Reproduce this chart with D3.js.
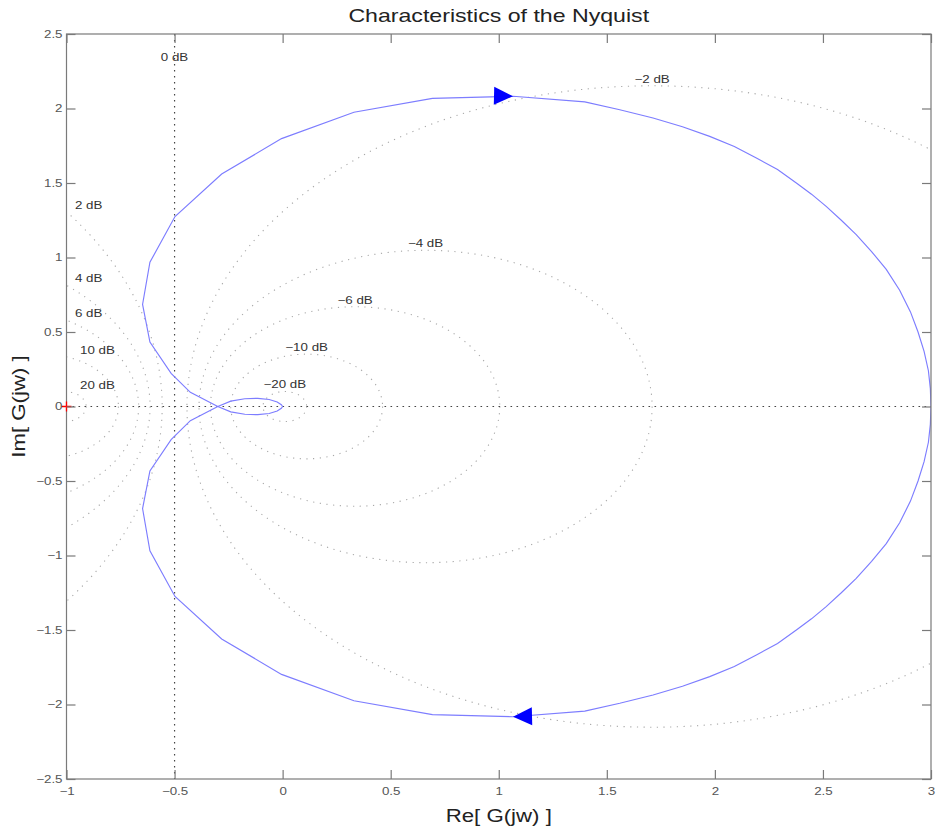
<!DOCTYPE html>
<html>
<head>
<meta charset="utf-8">
<script src="https://cdn.jsdelivr.net/npm/d3@7"></script>
<style>
  body { margin: 0; background: #fff; }
  svg text { font-family: "Liberation Sans", Arial, Helvetica, sans-serif; }
</style>
</head>
<body>
<svg id="chart" width="936" height="829"></svg>
<script>
// Axis ticks
const xTicks = [-1, -0.5, 0, 0.5, 1, 1.5, 2, 2.5, 3];
const yTicks = [-2.5, -2, -1.5, -1, -0.5, 0, 0.5, 1, 1.5, 2, 2.5];

// Constant closed-loop magnitude contours (M-circles), in dB
const gridDb = [20, 10, 6, 4, 2, 0, -2, -4, -6, -10, -20];

// G(jw) for w >= 0, from w = 0 (Re = 3) to w -> infinity (origin)
const nyqRe = [3.000, 2.997, 2.988, 2.968, 2.940, 2.905, 2.855, 2.793, 2.725, 2.654,
               2.585, 2.515, 2.447, 2.377, 2.290, 2.192, 2.090, 1.976, 1.850, 1.714,
               1.560, 1.398, 1.066, 0.693, 0.330, -0.005, -0.282, -0.498, -0.614, -0.648,
               -0.614, -0.516, -0.427, -0.300, -0.240, -0.175, -0.115, -0.062, -0.025, -0.006, 0.000];
const nyqIm = [0.000, -0.120, -0.240, -0.370, -0.500, -0.635, -0.780, -0.920, -1.040, -1.153,
               -1.250, -1.343, -1.425, -1.500, -1.590, -1.668, -1.745, -1.813, -1.878, -1.936,
               -1.992, -2.044, -2.082, -2.068, -1.975, -1.798, -1.560, -1.275, -0.968, -0.685,
               -0.432, -0.222, -0.095, 0.000, 0.036, 0.052, 0.055, 0.047, 0.030, 0.012, 0.000];
const arrowIndex = 22;

const title = "Characteristics of the Nyquist";
const xLabel = "Re[ G(jw) ]";
const yLabel = "Im[ G(jw) ]";

const svg = d3.select("#chart");
const W = 936, H = 829;
const m = { left: 66.5, right: 931, top: 34, bottom: 779 };

const x = d3.scaleLinear().domain([-1, 3]).range([m.left, m.right]);
const y = d3.scaleLinear().domain([-2.5, 2.5]).range([m.bottom, m.top]);

const STRETCH = 1.27;
function widen(sel, s) {
  sel.each(function () {
    const t = d3.select(this);
    const x0 = +t.attr("x") || 0;
    t.attr("transform", `translate(${x0},0) scale(${s},1) translate(${-x0},0)`);
  });
}
const fmt = d => (d < 0 ? "\u2212" + Math.abs(d) : String(d));

svg.append("rect").attr("width", W).attr("height", H).attr("fill", "#fff");

svg.append("defs").append("clipPath").attr("id", "plotClip")
  .append("rect")
  .attr("x", m.left).attr("y", m.top)
  .attr("width", m.right - m.left).attr("height", m.bottom - m.top);

const plot = svg.append("g").attr("clip-path", "url(#plotClip)");

// M-circles: centre M^2/(1-M^2), radius |M/(1-M^2)|
const circles = gridDb.filter(d => d !== 0).map(db => {
  const M = Math.pow(10, db / 20);
  const c = (M * M) / (1 - M * M);
  const r = Math.abs(M / (1 - M * M));
  return { db, c, r };
});

plot.selectAll("ellipse.mcircle")
  .data(circles)
  .join("ellipse")
  .attr("class", "mcircle")
  .attr("cx", d => x(d.c))
  .attr("cy", y(0))
  .attr("rx", d => x(d.c + d.r) - x(d.c))
  .attr("ry", d => y(0) - y(d.r))
  .attr("fill", "none")
  .attr("stroke", "#a8a8a8")
  .attr("stroke-width", 1.1)
  .attr("stroke-dasharray", "1.2,5.5");

// 0 dB contour (Re = -1/2) and the real axis
plot.append("line")
  .attr("x1", x(-0.5)).attr("x2", x(-0.5))
  .attr("y1", m.top).attr("y2", m.bottom)
  .attr("stroke", "#444").attr("stroke-width", 1.2)
  .attr("stroke-dasharray", "1.6,4.4");
plot.append("line")
  .attr("x1", m.left).attr("x2", m.right)
  .attr("y1", y(0)).attr("y2", y(0))
  .attr("stroke", "#444").attr("stroke-width", 1.2)
  .attr("stroke-dasharray", "1.6,4.4");

// Nyquist locus: positive frequencies and their mirror image
const pos = nyqRe.map((r, i) => [r, nyqIm[i]]);
const neg = pos.map(p => [p[0], -p[1]]);
const line = d3.line().x(d => x(d[0])).y(d => y(d[1]));

plot.selectAll("path.nyq")
  .data([pos, neg])
  .join("path")
  .attr("class", "nyq")
  .attr("d", line)
  .attr("fill", "none")
  .attr("stroke", "#7d7dff")
  .attr("stroke-width", 1.15);

// Direction arrows (tip on the locus, pointing the way w increases)
function arrow(branch, forward) {
  const i = arrowIndex;
  const a = forward ? branch[i - 1] : branch[i + 1];
  const b = forward ? branch[i + 1] : branch[i - 1];
  const ang = Math.atan2(y(b[1]) - y(a[1]), x(b[0]) - x(a[0])) * 180 / Math.PI;
  plot.append("path")
    .attr("d", "M0,0 L-19,-9 L-19,9 Z")
    .attr("fill", "#0000ff")
    .attr("transform", `translate(${x(branch[i][0])},${y(branch[i][1])}) rotate(${ang})`);
}
arrow(pos, true);
arrow(neg, false);

// Frame
svg.append("rect")
  .attr("x", m.left).attr("y", m.top)
  .attr("width", m.right - m.left).attr("height", m.bottom - m.top)
  .attr("fill", "none").attr("stroke", "#7a7a7a").attr("stroke-width", 1.2);

// Critical point -1 + j0
svg.append("path")
  .attr("d", `M${x(-1) - 5},${y(0)}H${x(-1) + 5}M${x(-1)},${y(0) - 5}V${y(0) + 5}`)
  .attr("stroke", "#ff0000").attr("stroke-width", 1.3);

// Axes with inward ticks on all sides
function styleAxis(g) {
  g.select(".domain").remove();
  g.selectAll(".tick line").attr("stroke", "#7a7a7a").attr("stroke-width", 1.2);
  g.selectAll(".tick text")
    .attr("fill", "#555")
    .attr("font-size", 10.5)
    .attr("font-family", "Liberation Sans, Arial, sans-serif");
}
svg.append("g").attr("transform", `translate(0,${m.bottom})`)
  .call(d3.axisBottom(x).tickValues(xTicks).tickSizeInner(-9).tickSizeOuter(0).tickPadding(9).tickFormat(fmt))
  .call(styleAxis);
svg.append("g").attr("transform", `translate(0,${m.top})`)
  .call(d3.axisTop(x).tickValues(xTicks).tickSizeInner(-9).tickSizeOuter(0).tickFormat(""))
  .call(styleAxis);
svg.append("g").attr("transform", `translate(${m.left},0)`)
  .call(d3.axisLeft(y).tickValues(yTicks).tickSizeInner(-9).tickSizeOuter(0).tickPadding(4).tickFormat(fmt))
  .call(styleAxis);
svg.append("g").attr("transform", `translate(${m.right},0)`)
  .call(d3.axisRight(y).tickValues(yTicks).tickSizeInner(-9).tickSizeOuter(0).tickFormat(""))
  .call(styleAxis);

svg.selectAll(".tick text").call(widen, STRETCH);

// Contour labels
const labels = svg.append("g")
  .attr("font-size", 10.5).attr("fill", "#333");

circles.forEach(d => {
  let tx, ty, anchor;
  if (d.db < 0) {
    tx = x(d.c); ty = y(d.r) - 3; anchor = "middle";
  } else {
    const dx = -1 - d.c;
    const yi = Math.sqrt(Math.max(d.r * d.r - dx * dx, 0));
    tx = x(-1) + (d.db >= 10 ? 13.5 : 8.5); ty = y(yi) - 3; anchor = "start";
  }
  labels.append("text")
    .attr("x", tx).attr("y", ty)
    .attr("text-anchor", anchor)
    .text(fmt(d.db) + " dB");
});
labels.append("text")
  .attr("x", x(-0.5)).attr("y", m.top + 27)
  .attr("text-anchor", "middle")
  .text("0 dB");
labels.selectAll("text").call(widen, STRETCH);

// Title and axis titles
svg.append("text")
  .attr("x", (m.left + m.right) / 2).attr("y", 22)
  .attr("text-anchor", "middle")
  .attr("font-size", 18.5).attr("fill", "#222")
  .text(title)
  .call(widen, 1.25);

svg.append("text")
  .attr("x", (m.left + m.right) / 2).attr("y", 822)
  .attr("text-anchor", "middle")
  .attr("font-size", 17.5).attr("fill", "#222")
  .text(xLabel)
  .call(widen, STRETCH);

svg.append("g")
  .attr("transform", `translate(25,${(m.top + m.bottom) / 2}) rotate(-90)`)
  .append("text")
  .attr("x", 0).attr("y", 0)
  .attr("text-anchor", "middle")
  .attr("font-size", 17.5).attr("fill", "#222")
  .text(yLabel)
  .call(widen, STRETCH);
</script>
</body>
</html>
